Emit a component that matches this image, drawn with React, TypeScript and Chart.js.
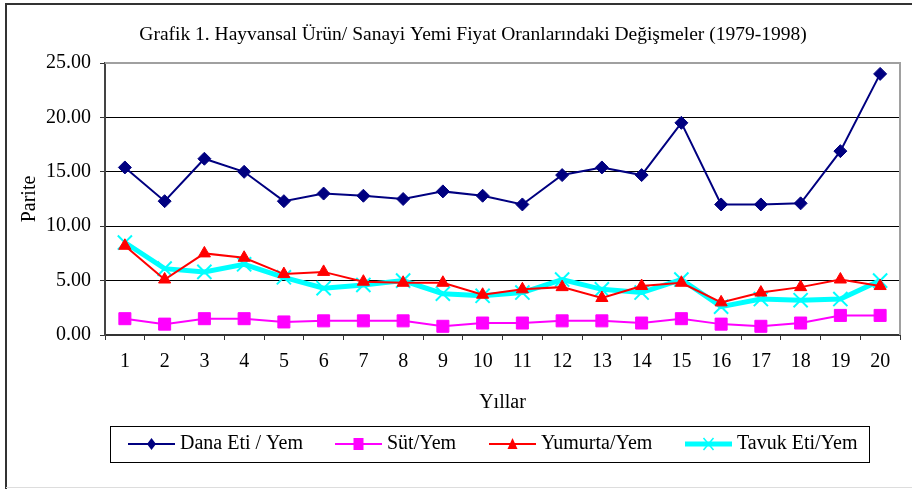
import React, { useEffect, useRef } from "react";
import { Chart, registerables } from "chart.js";

Chart.register(...registerables);

const years: string[] = ["1","2","3","4","5","6","7","8","9","10","11","12","13","14","15","16","17","18","19","20"];
const danaEti: number[] = [15.4,12.3,16.2,15.0,12.3,13.0,12.8,12.5,13.2,12.8,12.0,14.7,15.4,14.7,19.5,12.0,12.0,12.1,16.9,24.0];
const sut: number[] = [1.5,1.0,1.5,1.5,1.2,1.3,1.3,1.3,0.8,1.1,1.1,1.3,1.3,1.1,1.5,1.0,0.8,1.1,1.8,1.8];
const yumurta: number[] = [8.2,5.1,7.5,7.1,5.6,5.8,4.9,4.8,4.8,3.7,4.2,4.4,3.4,4.5,4.8,3.0,3.9,4.4,5.1,4.5];
const tavukEti: number[] = [8.5,6.1,5.8,6.5,5.3,4.3,4.6,5.0,3.8,3.6,3.9,5.1,4.2,3.9,5.1,2.6,3.3,3.2,3.3,5.0];
const yTicks: number[] = [0, 5, 10, 15, 20, 25];

const titleText = "Grafik 1. Hayvansal Ürün/ Sanayi Yemi Fiyat Oranlarındaki Değişmeler (1979-1998)";
const yTitle = "Parite";
const xTitle = "Yıllar";

const FONT = "'Liberation Serif', 'Times New Roman', serif";

const seriesDefs = [
  { label: "Dana Eti / Yem", data: danaEti, color: "#000080", width: 2, style: "rectRot", radius: 6.5, mw: 1 },
  { label: "Süt/Yem", data: sut, color: "#FF00FF", width: 2, style: "rect", radius: 8.5, mw: 1 },
  { label: "Yumurta/Yem", data: yumurta, color: "#FF0000", width: 2, style: "triangle", radius: 7, mw: 1 },
  { label: "Tavuk Eti/Yem", data: tavukEti, color: "#00FFFF", width: 5, style: "crossRot", radius: 10, mw: 2 },
];

function legendMarker(ctx: CanvasRenderingContext2D, style: string, x: number, y: number, color: string) {
  ctx.fillStyle = color;
  ctx.strokeStyle = color;
  ctx.beginPath();
  if (style === "rectRot") {
    ctx.moveTo(x, y - 6);
    ctx.lineTo(x + 4.5, y);
    ctx.lineTo(x, y + 6);
    ctx.lineTo(x - 4.5, y);
    ctx.closePath();
    ctx.fill();
  } else if (style === "rect") {
    ctx.rect(x - 5, y - 6, 10, 12);
    ctx.fill();
  } else if (style === "triangle") {
    ctx.moveTo(x, y - 6);
    ctx.lineTo(x + 5, y + 5);
    ctx.lineTo(x - 5, y + 5);
    ctx.closePath();
    ctx.fill();
  } else {
    ctx.lineWidth = 1.5;
    ctx.moveTo(x - 5, y - 6);
    ctx.lineTo(x + 5, y + 6);
    ctx.moveTo(x + 5, y - 6);
    ctx.lineTo(x - 5, y + 6);
    ctx.stroke();
  }
}

const decorPlugin = {
  id: "decor",
  afterDraw(chart: any) {
    const ctx = chart.ctx as CanvasRenderingContext2D;
    const ca = chart.chartArea;
    ctx.save();
    // outer frame
    ctx.strokeStyle = "#333";
    ctx.lineWidth = 2;
    ctx.beginPath();
    ctx.moveTo(6, 489);
    ctx.lineTo(6, 4);
    ctx.lineTo(912, 4);
    ctx.stroke();
    ctx.strokeStyle = "#ddd";
    ctx.lineWidth = 1;
    ctx.beginPath();
    ctx.moveTo(6, 487.5);
    ctx.lineTo(912, 487.5);
    ctx.stroke();
    // plot area top/right border
    ctx.strokeStyle = "#a0a0a0";
    ctx.lineWidth = 2;
    ctx.beginPath();
    ctx.moveTo(ca.left, ca.top);
    ctx.lineTo(ca.right, ca.top);
    ctx.lineTo(ca.right, ca.bottom);
    ctx.stroke();
    // title
    ctx.fillStyle = "#000";
    ctx.font = `19.5px ${FONT}`;
    ctx.textAlign = "center";
    ctx.textBaseline = "middle";
    ctx.fillText(titleText, 473, 35);
    // x title
    ctx.font = `20px ${FONT}`;
    ctx.fillText(xTitle, (ca.left + ca.right) / 2, 403);
    // y title
    ctx.save();
    ctx.translate(30, (ca.top + ca.bottom) / 2);
    ctx.rotate(-Math.PI / 2);
    ctx.fillText(yTitle, 0, 0);
    ctx.restore();
    // legend
    ctx.strokeStyle = "#000";
    ctx.lineWidth = 1;
    ctx.strokeRect(110.5, 426.5, 759, 36);
    const starts = [128, 335, 489, 685];
    const ly = 444;
    seriesDefs.forEach((s, i) => {
      const x0 = starts[i];
      ctx.strokeStyle = s.color;
      ctx.lineWidth = s.width;
      ctx.beginPath();
      ctx.moveTo(x0, ly);
      ctx.lineTo(x0 + 47, ly);
      ctx.stroke();
      legendMarker(ctx, s.style, x0 + 23.5, ly, s.color);
      ctx.fillStyle = "#000";
      ctx.textAlign = "left";
      ctx.textBaseline = "middle";
      ctx.font = `20px ${FONT}`;
      ctx.fillText(s.label, x0 + 52, ly);
    });
    ctx.restore();
  },
};

export default function App() {
  const ref = useRef<HTMLCanvasElement>(null);
  useEffect(() => {
    if (!ref.current) return;
    const chart = new Chart(ref.current, {
      type: "line",
      data: {
        labels: years,
        datasets: seriesDefs.map((s) => ({
          label: s.label,
          data: s.data,
          borderColor: s.color,
          backgroundColor: s.color,
          borderWidth: s.width,
          pointStyle: s.style as any,
          pointRadius: s.radius,
          pointBorderWidth: s.mw,
          pointBorderColor: s.color,
          pointBackgroundColor: s.color,
          tension: 0,
        })),
      },
      options: {
        responsive: false,
        animation: false,
        layout: { padding: { top: 63, left: 0, right: 10, bottom: 79 } },
        plugins: { legend: { display: false }, title: { display: false }, tooltip: { enabled: false } },
        scales: {
          x: {
            offset: true,
            grid: { display: true, drawOnChartArea: false, drawTicks: true, tickLength: 5, color: "#333", offset: true },
            border: { display: true, color: "#333", width: 2 },
            ticks: { color: "#000", font: { family: FONT, size: 20 }, padding: 10, maxRotation: 0, autoSkip: false },
            afterFit: (scale: any) => { scale.height = 75; },
          },
          y: {
            min: 0,
            max: 25,
            afterBuildTicks: (scale: any) => { scale.ticks = yTicks.map((v) => ({ value: v })); },
            grid: { color: "#000", lineWidth: 1, drawTicks: true, tickLength: 5, tickColor: "#333" },
            border: { display: true, color: "#444", width: 2 },
            ticks: { color: "#000", font: { family: FONT, size: 20 }, padding: 9, callback: (v: any) => Number(v).toFixed(2) },
            afterFit: (scale: any) => { scale.width = 105; },
          },
        },
      },
      plugins: [decorPlugin],
    });
    return () => chart.destroy();
  }, []);
  return (
    <div style={{ position: "absolute", left: 0, top: 0, width: 912, height: 489, background: "#fff" }}>
      <canvas ref={ref} width={912} height={489} style={{ display: "block", width: 912, height: 489 }} />
    </div>
  );
}
